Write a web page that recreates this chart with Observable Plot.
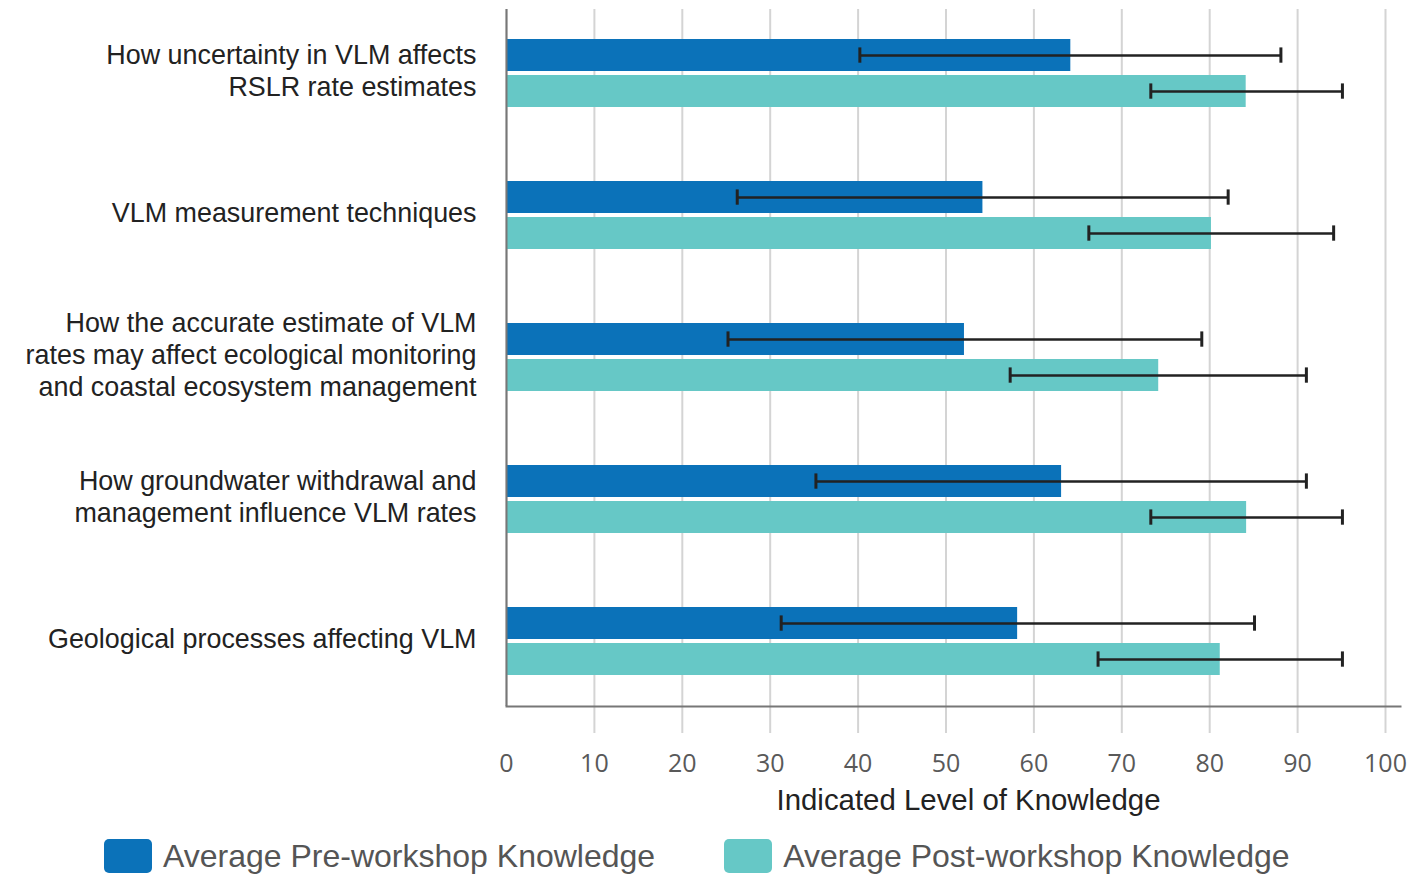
<!DOCTYPE html>
<html><head><meta charset="utf-8">
<script src="https://cdn.jsdelivr.net/npm/d3@7"></script>
<script src="https://cdn.jsdelivr.net/npm/@observablehq/plot@0.6"></script>
<style>
body{margin:0;background:#fff;}
#legend{display:flex;align-items:center;height:40px;padding-left:104px;font-family:"Liberation Sans",Arial,sans-serif;font-size:32px;color:#555;}
.item{display:flex;align-items:center;margin-right:69px;white-space:nowrap;}
.sw{width:48px;height:34px;border-radius:5px;margin-right:11px;}
</style></head><body>
<div id="chart"></div>
<div id="legend"></div>
<script>
const categories = [
  "How uncertainty in VLM affects RSLR rate estimates",
  "VLM measurement techniques",
  "How the accurate estimate of VLM rates may affect ecological monitoring and coastal ecosystem management",
  "How groundwater withdrawal and management influence VLM rates",
  "Geological processes affecting VLM"
];
const tickLabels = [
  "How uncertainty in VLM affects\nRSLR rate estimates",
  "VLM measurement techniques",
  "How the accurate estimate of VLM\nrates may affect ecological monitoring\nand coastal ecosystem management",
  "How groundwater withdrawal and\nmanagement influence VLM rates",
  "Geological processes affecting VLM"
];
const seriesNames = ["Average Pre-workshop Knowledge", "Average Post-workshop Knowledge"];
const seriesColors = ["#0b72b9", "#66c8c6"];
const preMean  = [64.2, 54.2, 52.1, 63.15, 58.15];
const preLow   = [40.2, 26.25, 25.2, 35.2, 31.25];
const preHigh  = [88.1, 82.1, 79.1, 91.0, 85.1];
const postMean = [84.15, 80.2, 74.2, 84.2, 81.2];
const postLow  = [73.3, 66.25, 57.3, 73.3, 67.3];
const postHigh = [95.1, 94.1, 91.0, 95.1, 95.1];
const xTicks = [0, 10, 20, 30, 40, 50, 60, 70, 80, 90, 100];
const xLabel = "Indicated Level of Knowledge";

const pre = categories.map((c, i) => ({category: c, series: seriesNames[0], mean: preMean[i], low: preLow[i], high: preHigh[i]}));
const post = categories.map((c, i) => ({category: c, series: seriesNames[1], mean: postMean[i], low: postLow[i], high: postHigh[i]}));

const ink = "#222";
const chart = Plot.plot({
  width: 1412,
  height: 836,
  marginTop: 9,
  marginBottom: 130,
  marginLeft: 506,
  marginRight: 12,
  style: {fontFamily: "'Liberation Sans', Arial, sans-serif", background: "#fff", overflow: "visible"},
  x: {domain: [0, 100], range: [506, 1385]},
  y: {domain: categories, paddingInner: 0.518, paddingOuter: 0.2045},
  marks: [
    Plot.gridX(xTicks, {stroke: "#d4d4d4", strokeOpacity: 1, strokeWidth: 2}),
    Plot.axisX(xTicks.slice(1), {tickSize: 27, stroke: "#d4d4d4", strokeOpacity: 1, strokeWidth: 2, tickFormat: () => "", label: null}),
    Plot.axisX(xTicks, {tickSize: 0, tickPadding: 48, fontSize: 25, fontFamily: "'Open Sans', sans-serif", fill: "#595959", label: null}),
    Plot.axisY({tickSize: 0, tickPadding: 30, fontSize: 26.9, lineHeight: 1.19, dy: -4, fill: ink, label: null,
      tickFormat: d => tickLabels[categories.indexOf(d)]}),
    Plot.barX(pre, {y: "category", x: "mean", fill: seriesColors[0], insetBottom: 36}),
    Plot.barX(post, {y: "category", x: "mean", fill: seriesColors[1], insetTop: 36}),
    Plot.ruleY(pre, {y: "category", x1: "low", x2: "high", dy: -18, stroke: ink, strokeWidth: 2.5}),
    Plot.ruleY(post, {y: "category", x1: "low", x2: "high", dy: 18, stroke: ink, strokeWidth: 2.5}),
    Plot.tickX(pre, {y: "category", x: "low", insetTop: 8.4, insetBottom: 44.3, stroke: ink, strokeWidth: 3}),
    Plot.tickX(pre, {y: "category", x: "high", insetTop: 8.4, insetBottom: 44.3, stroke: ink, strokeWidth: 3}),
    Plot.tickX(post, {y: "category", x: "low", insetTop: 44.4, insetBottom: 8.3, stroke: ink, strokeWidth: 3}),
    Plot.tickX(post, {y: "category", x: "high", insetTop: 44.4, insetBottom: 8.3, stroke: ink, strokeWidth: 3}),
    Plot.ruleX([0], {stroke: "#777", strokeWidth: 2}),
    Plot.frame({anchor: "bottom", stroke: "#777", strokeWidth: 2}),
    Plot.text([xLabel], {text: d => d, frameAnchor: "bottom", lineAnchor: "middle", dx: 15, dy: 94, fontSize: 29.4, fill: ink})
  ]
});
document.getElementById("chart").appendChild(chart);

const legend = document.getElementById("legend");
seriesNames.forEach((name, i) => {
  const item = document.createElement("div");
  item.className = "item";
  const sw = document.createElement("div");
  sw.className = "sw";
  sw.style.background = seriesColors[i];
  const label = document.createElement("span");
  label.textContent = name;
  item.appendChild(sw);
  item.appendChild(label);
  legend.appendChild(item);
});
</script>
</body></html>
